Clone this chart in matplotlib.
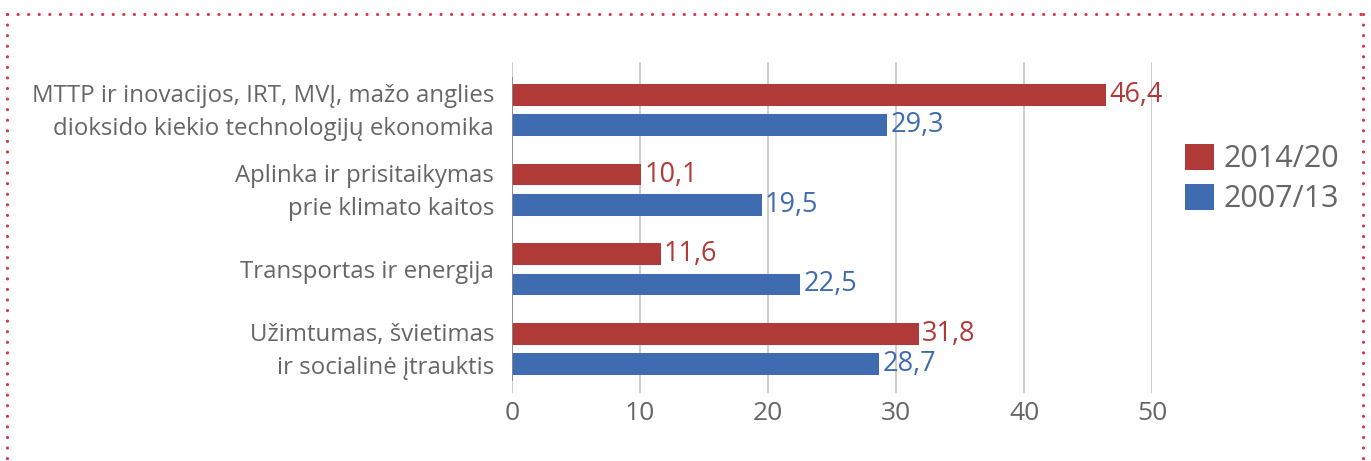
import matplotlib
matplotlib.use('Agg')
import matplotlib.pyplot as plt
from matplotlib.lines import Line2D
from matplotlib.transforms import ScaledTranslation
import numpy as np

plt.rcParams['font.family'] = ['Open Sans', 'DejaVu Sans']

categories = ['MTTP ir inovacijos, IRT, MVĮ, mažo anglies\ndioksido kiekio technologijų ekonomika',
              'Aplinka ir prisitaikymas\nprie klimato kaitos',
              'Transportas ir energija',
              'Užimtumas, švietimas\nir socialinė įtrauktis']
period_new = [46.4, 10.1, 11.6, 31.8]
period_old = [29.3, 19.5, 22.5, 28.7]
series_names = ['2014/20', '2007/13']
xticks = [0, 10, 20, 30, 40, 50]

red = '#B03A37'
blue = '#3F6BB1'
grey = '#666666'

fig = plt.figure(figsize=(13.71, 4.61), dpi=100)
ax = fig.add_axes([0.3735, 0.1475, 0.4668, 0.718])

y = np.arange(len(categories))[::-1].astype(float)
h = 0.275
off = 0.19
b1 = ax.barh(y + off, period_new, height=h, color=red, label=series_names[0], zorder=3)
b2 = ax.barh(y - off, period_old, height=h, color=blue, label=series_names[1], zorder=3)

for bars, vals, col in ((b1, period_new, red), (b2, period_old, blue)):
    for rect, v in zip(bars, vals):
        ax.text(v + 0.25, rect.get_y() + rect.get_height() / 2,
                f'{v:.1f}'.replace('.', ','), color=col, fontsize=19.5,
                va='center', ha='left')

ax.set_xlim(0, 50)
ax.set_ylim(-0.552, 3.602)
ax.set_xticks(xticks)
ax.set_xticklabels([str(t) for t in xticks], fontsize=19, color=grey)
ax.tick_params(axis='x', length=0, pad=6)
ax.set_yticks(y)
ax.set_yticklabels(categories, fontsize=17.3, color=grey, linespacing=1.5)
ax.tick_params(axis='y', length=0, pad=13)
# two-line labels sit a little high, centred on the pair of bars
for lab in ax.get_yticklabels():
    if '\n' in lab.get_text():
        lab.set_transform(lab.get_transform() +
                          ScaledTranslation(0, 0.05, fig.dpi_scale_trans))
ax.grid(axis='x', color='#C8C8C8', lw=1.3, zorder=0)
for s in ax.spines.values():
    s.set_visible(False)
ax.axvline(0, ymin=0.039, ymax=0.952, color='#8A8A8A', lw=1.3, zorder=4)

leg = ax.legend(loc='upper left', bbox_to_anchor=(1.033, 0.79), frameon=False,
                fontsize=22, handlelength=0.95, handleheight=0.95,
                handletextpad=0.3, labelspacing=0.3, borderaxespad=0)
for t in leg.get_texts():
    t.set_color(grey)

# dotted frame around the panel
W, H = 1371, 461
dot = dict(color='#D7364F', lw=2.3, linestyle=(0, (0.01, 3.3)),
           dash_capstyle='round', transform=fig.transFigure)
fig.add_artist(Line2D([7 / W, 1363 / W], [1 - 14 / H, 1 - 14 / H], **dot))
fig.add_artist(Line2D([7 / W, 7 / W], [1 - 14 / H, 0], **dot))
fig.add_artist(Line2D([1363 / W, 1363 / W], [1 - 14 / H, 0], **dot))

fig.savefig('out.png', dpi=100)
